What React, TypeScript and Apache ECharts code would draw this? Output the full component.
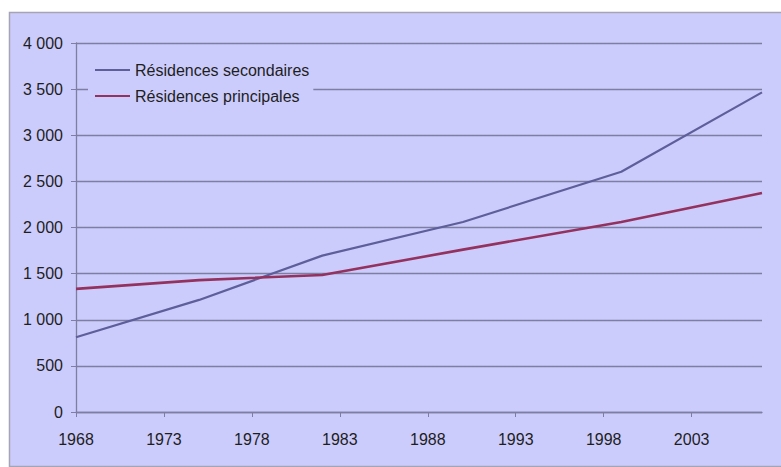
import React, { useEffect, useRef } from "react";
import * as echarts from "echarts";

const years = [1968, 1975, 1982, 1990, 1999, 2007];
const secondaires = [810, 1215, 1695, 2060, 2605, 3465];
const principales = [1335, 1430, 1485, 1760, 2060, 2375];
const xTicks = [1968, 1973, 1978, 1983, 1988, 1993, 1998, 2003];
const seriesNames = ["Résidences secondaires", "Résidences principales"];

const FONT = "'Liberation Sans', Arial, sans-serif";

function fmtY(v: number): string {
  if (v >= 1000) {
    const th = Math.floor(v / 1000);
    const rest = String(v % 1000).padStart(3, "0");
    return th + " " + rest;
  }
  return String(v);
}

export default function App() {
  const ref = useRef<HTMLDivElement>(null);
  useEffect(() => {
    if (!ref.current) return;
    const chart = echarts.init(ref.current, undefined, { renderer: "svg" });
    const gridColor = "#7e7ea2";
    chart.setOption({
      animation: false,
      backgroundColor: "#ffffff",
      graphic: [
        {
          type: "rect",
          z: -100,
          silent: true,
          shape: { x: 9.5, y: 12.5, width: 780, height: 454 },
          style: { fill: "#ccccfc", stroke: "#a4a4b4", lineWidth: 1.5 },
        },
      ],
      grid: { left: 76, top: 43, right: 19, bottom: 55, containLabel: false },
      legend: {
        left: 88,
        top: 54,
        orient: "vertical",
        padding: [8, 4, 8, 7],
        backgroundColor: "#ccccfc",
        itemWidth: 35,
        itemHeight: 14,
        itemGap: 10,
        icon: "path://M0,6 L35,6 L35,8 L0,8 Z",
        data: seriesNames,
        textStyle: { fontFamily: FONT, fontSize: 16, color: "#1e1e1e", lineHeight: 16 },
        z: 10,
      },
      xAxis: {
        type: "value",
        min: years[0],
        max: years[years.length - 1],
        splitLine: { show: false },
        axisLine: { show: true, lineStyle: { color: gridColor, width: 1.3 } },
        axisTick: {
          show: true,
          length: 5,
          customValues: xTicks,
          lineStyle: { color: gridColor },
        },
        axisLabel: {
          customValues: xTicks,
          formatter: (v: number) => String(v),
          fontFamily: FONT,
          fontSize: 16,
          color: "#1e1e1e",
          margin: 19,
        },
      },
      yAxis: {
        type: "value",
        min: 0,
        max: 4000,
        interval: 500,
        axisLine: { show: true, lineStyle: { color: gridColor, width: 1.3 } },
        axisTick: { show: true, length: 5, lineStyle: { color: gridColor } },
        splitLine: { show: true, lineStyle: { color: gridColor, width: 1.4 } },
        axisLabel: {
          formatter: fmtY,
          fontFamily: FONT,
          fontSize: 16,
          color: "#1e1e1e",
          margin: 13,
        },
      },
      series: [
        {
          name: seriesNames[0],
          type: "line",
          symbol: "none",
          data: years.map((y, i) => [y, secondaires[i]]),
          lineStyle: { color: "#5e5e9a", width: 2.2 },
          itemStyle: { color: "#5e5e9a" },
          z: 3,
        },
        {
          name: seriesNames[1],
          type: "line",
          symbol: "none",
          data: years.map((y, i) => [y, principales[i]]),
          lineStyle: { color: "#94325f", width: 2.6 },
          itemStyle: { color: "#94325f" },
          z: 3,
        },
      ],
    });
    return () => chart.dispose();
  }, []);
  return (
    <div
      ref={ref}
      style={{ position: "fixed", left: 0, top: 0, width: 781, height: 467 }}
    />
  );
}
